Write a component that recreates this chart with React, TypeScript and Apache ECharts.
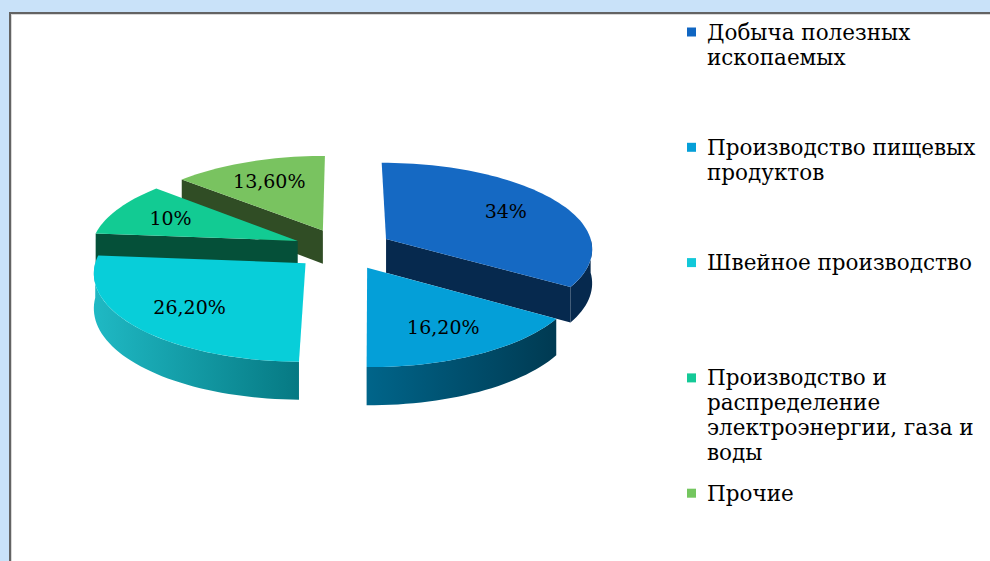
import React, { useEffect, useRef } from "react";
import * as echarts from "echarts";

// ---- data ----
const categories: string[] = [
  "Добыча полезных ископаемых",
  "Производство пищевых продуктов",
  "Швейное производство",
  "Производство и распределение электроэнергии, газа и воды",
  "Прочие",
];
const legendLines: string[][] = [
  ["Добыча полезных", "ископаемых"],
  ["Производство пищевых", "продуктов"],
  ["Швейное производство"],
  ["Производство и", "распределение", "электроэнергии, газа и", "воды"],
  ["Прочие"],
];
const shares: number[] = [34, 16.2, 26.2, 10, 13.6];

// ---- styles ----
const topColors = ["#1569c3", "#049fd8", "#08ced9", "#12cb93", "#79c360"];
const legendColors = ["#1066c2", "#059fd8", "#12c8d9", "#14c997", "#74c65f"];
const faceColors = ["#06294e", "#003f57", "#077a85", "#055039", "#304d25"];
const wallColors: [string, string][] = [
  ["#06294e", "#06294e"],
  ["#00658a", "#003a52"],
  ["#1fb9c4", "#067983"],
  ["#055039", "#055039"],
  ["#304d25", "#304d25"],
];

const CX = 343;
const CY = 249;
const RX = 207;
const RY = 87;
const H = 34;
const K = 0.1;
const EXPLODE = 0.24;
const LABEL_R = 0.7;
const FONT = "'DejaVu Serif', serif";

const fmt = (v: number) =>
  Number.isInteger(v) ? `${v}%` : `${v.toFixed(2).replace(".", ",")}%`;

export default function App() {
  const ref = useRef<HTMLDivElement>(null);
  useEffect(() => {
    if (!ref.current) return;
    const chart = echarts.init(ref.current, undefined, { renderer: "svg" });
    const total = shares.reduce((a, b) => a + b, 0);
    const starts: number[] = [];
    let acc = 0;
    shares.forEach((s) => {
      starts.push(acc);
      acc += s;
    });
    const mids = shares.map((s, i) => ((starts[i] + s / 2) / total) * Math.PI * 2);
    const order = mids
      .map((m, i) => ({ i, d: -Math.cos(m) }))
      .sort((a, b) => a.d - b.d)
      .map((o) => o.i);
    const rank: number[] = [];
    order.forEach((idx, r) => (rank[idx] = r));

    const renderItem = (params: any, api: any) => {
      const i = params.dataIndex;
      const val = api.value(0) as number;
      const a0 = (starts[i] / total) * Math.PI * 2;
      const a1 = ((starts[i] + val) / total) * Math.PI * 2;
      const mid = (a0 + a1) / 2;
      const ex = EXPLODE * Math.sin(mid);
      const ey = -EXPLODE * Math.cos(mid);
      const P = (a: number, r: number, z: number) => {
        const u = r * Math.sin(a) + ex;
        const v = -r * Math.cos(a) + ey;
        const p = 1 + K * v;
        return [CX + RX * u * p, CY + RY * v * p + H * z * p];
      };
      const arc = (from: number, to: number, z: number) => {
        const n = Math.max(2, Math.ceil((to - from) / (Math.PI / 90)));
        const pts: number[][] = [];
        for (let k = 0; k <= n; k++) pts.push(P(from + ((to - from) * k) / n, 1, z));
        return pts;
      };
      const base = rank[i] * 10;
      const children: any[] = [];
      if (Math.sin(a0) < -0.05) {
        children.push({
          type: "polygon",
          z2: base + 1,
          shape: { points: [P(a0, 0, 0), P(a0, 1, 0), P(a0, 1, 1), P(a0, 0, 1)] },
          style: { fill: faceColors[i] },
        });
      }
      if (Math.sin(a1) > 0.05) {
        children.push({
          type: "polygon",
          z2: base + 1,
          shape: { points: [P(a1, 0, 0), P(a1, 1, 0), P(a1, 1, 1), P(a1, 0, 1)] },
          style: { fill: faceColors[i] },
        });
      }
      const w0 = Math.max(a0, Math.PI / 2);
      const w1 = Math.min(a1, (Math.PI * 3) / 2);
      if (w1 > w0) {
        const pts = arc(w0, w1, 0).concat(arc(w0, w1, 1).reverse());
        children.push({
          type: "polygon",
          z2: base + 2,
          shape: { points: pts },
          style: {
            fill: new echarts.graphic.LinearGradient(0, 0, 1, 0, [
              { offset: 0, color: wallColors[i][0] },
              { offset: 1, color: wallColors[i][1] },
            ]),
          },
        });
      }
      children.push({
        type: "polygon",
        z2: base + 5,
        shape: { points: [P(a0, 0, 0)].concat(arc(a0, a1, 0)) },
        style: { fill: topColors[i] },
      });
      const lp = P(mid, LABEL_R, 0);
      children.push({
        type: "text",
        z2: 100,
        x: lp[0],
        y: lp[1],
        style: {
          text: fmt(val),
          font: `19px ${FONT}`,
          fill: "#000",
          align: "center",
          verticalAlign: "middle",
        },
      });
      return { type: "group", children };
    };

    const legendGraphics: any[] = [];
    const LEG_Y0 = 32;
    const LEG_STEP = 115.3;
    legendLines.forEach((lines, i) => {
      const cy = LEG_Y0 + LEG_STEP * i;
      legendGraphics.push({
        type: "rect",
        z: 5,
        shape: { x: 687, y: cy - 4.5, width: 9, height: 9 },
        style: { fill: legendColors[i] },
      });
      legendGraphics.push({
        type: "text",
        z: 5,
        x: 707,
        y: cy - 12.5,
        style: {
          text: lines.join("\n"),
          font: `21.5px ${FONT}`,
          lineHeight: 25,
          fill: "#000",
          verticalAlign: "top",
          align: "left",
        },
      });
    });

    chart.setOption({
      animation: false,
      backgroundColor: "#c9e2f9",
      graphic: [
        { type: "rect", z: -2, shape: { x: 10, y: 13, width: 990, height: 560 }, style: { fill: "#ffffff" } },
        { type: "rect", z: -1, shape: { x: 9, y: 12, width: 981, height: 2 }, style: { fill: "#636363" } },
        { type: "rect", z: -1, shape: { x: 9, y: 12, width: 2, height: 549 }, style: { fill: "#636363" } },
        { type: "rect", z: -1, shape: { x: 11, y: 14, width: 979, height: 1 }, style: { fill: "#d8d8d8" } },
        { type: "rect", z: -1, shape: { x: 11, y: 14, width: 1, height: 547 }, style: { fill: "#d8d8d8" } },
        ...legendGraphics,
      ],
      series: [
        {
          type: "custom",
          name: "Структура",
          coordinateSystem: "none",
          renderItem,
          data: shares.map((v, i) => ({ name: categories[i], value: [v] })),
        },
      ],
    });
    return () => chart.dispose();
  }, []);
  return (
    <div
      ref={ref}
      style={{ position: "fixed", left: 0, top: 0, width: 990, height: 561 }}
    />
  );
}
